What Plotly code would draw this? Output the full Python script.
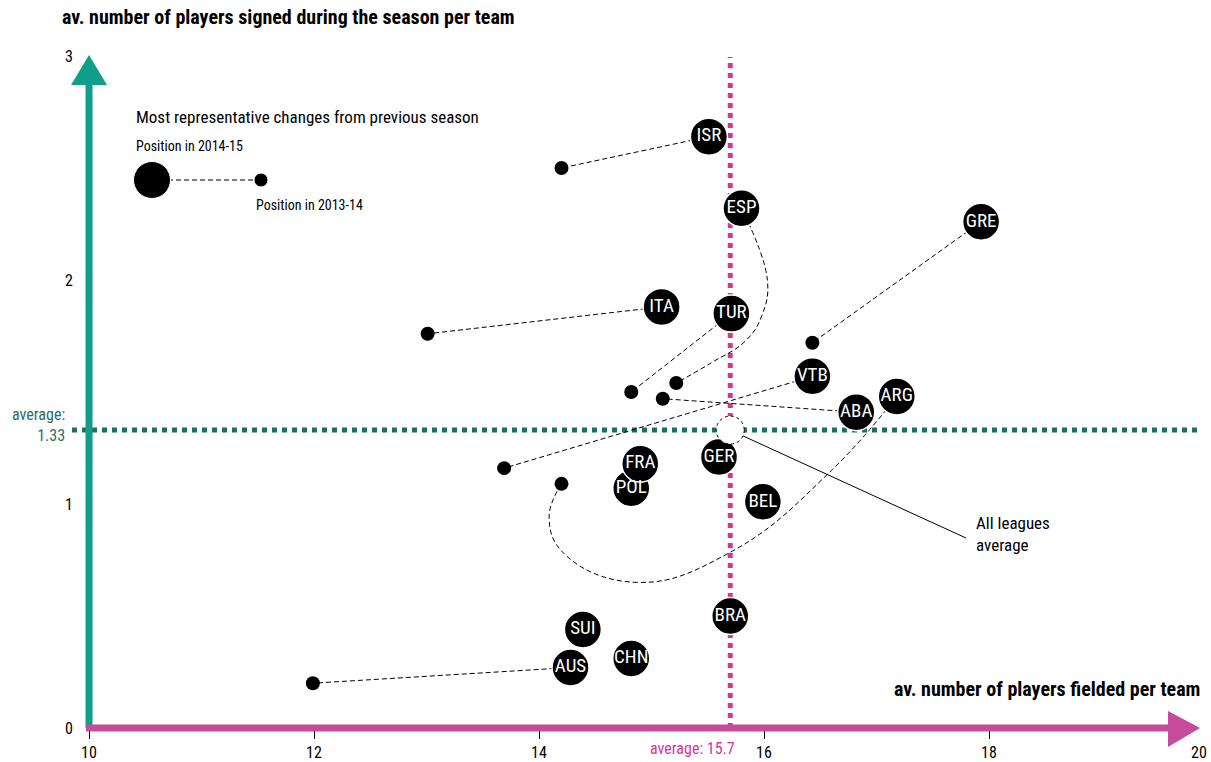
import plotly.graph_objects as go

# 2014-15 position of each league (big circles)
teams = ["ISR", "ESP", "GRE", "ITA", "TUR", "VTB", "ABA", "ARG", "GER",
         "POL", "FRA", "BEL", "BRA", "SUI", "CHN", "AUS"]
fielded_1415 = [15.51, 15.80, 17.93, 15.09, 15.71, 16.43, 16.82, 17.18, 15.60,
                14.82, 14.90, 15.99, 15.70, 14.39, 14.82, 14.28]
signed_1415 = [2.64, 2.32, 2.26, 1.88, 1.85, 1.57, 1.41, 1.48, 1.21,
               1.07, 1.18, 1.01, 0.50, 0.44, 0.31, 0.27]

# 2013-14 position for the most representative changes (small dots)
prev_teams = ["ISR", "ESP", "GRE", "ITA", "TUR", "VTB", "ARG", "ABA", "AUS"]
fielded_1314 = [14.20, 15.22, 16.43, 13.01, 14.82, 13.69, 14.20, 15.10, 11.99]
signed_1314 = [2.50, 1.54, 1.72, 1.76, 1.50, 1.16, 1.09, 1.47, 0.20]

# curved connectors (waypoints between the two seasons)
esp_path_x = [16.03, 15.98, 15.84, 15.53]
esp_path_y = [2.00, 1.84, 1.73, 1.63]
arg_path_x = [16.60, 15.72, 14.87, 14.22, 14.09]
arg_path_y = [1.15, 0.79, 0.65, 0.78, 0.94]

avg_fielded = 15.7
avg_signed = 1.33

x_ticks = [10, 12, 14, 16, 18]
y_ticks = [0, 1, 2, 3]

FONT = "Noto Sans Condensed, Liberation Sans Narrow, Roboto Condensed, Roboto, sans-serif"
TEAL = "#0f9e8a"
MAGENTA = "#c74b9b"
DOT_MAGENTA = "#d4359b"
DOT_GREEN = "#1b6e60"
W, H = 1211, 762


# pixel -> data helpers, used only for decorations (arrows, legend key)
def px_x(p):
    return 10 + (p - 89) / 112.5


def px_y(p):
    return (728 - p) / 224


fig = go.Figure()

# connectors
curves = {"ESP": (esp_path_x, esp_path_y), "ARG": (arg_path_x, arg_path_y)}
for t, px0, py0 in zip(prev_teams, fielded_1314, signed_1314):
    i = teams.index(t)
    xs, ys = [fielded_1415[i]], [signed_1415[i]]
    shape = "linear"
    if t in curves:
        xs += curves[t][0]
        ys += curves[t][1]
        shape = "spline"
    xs.append(px0)
    ys.append(py0)
    fig.add_trace(go.Scatter(x=xs, y=ys, mode="lines", hoverinfo="skip",
                             line=dict(color="black", width=1, dash="5px,3px",
                                       shape=shape, smoothing=1.2)))

fig.add_trace(go.Scatter(x=fielded_1314, y=signed_1314, mode="markers",
                         text=prev_teams, hoverinfo="text",
                         marker=dict(size=14, color="black", opacity=1)))

fig.add_trace(go.Scatter(x=fielded_1415, y=signed_1415, mode="markers+text",
                         text=teams, textposition="middle center",
                         textfont=dict(color="white", size=19, family=FONT),
                         marker=dict(size=37, color="black", opacity=1,
                                     line=dict(color="white", width=1.5))))

# legend key
fig.add_trace(go.Scatter(x=[px_x(152), px_x(261)], y=[px_y(180), px_y(180)],
                         mode="lines+markers", hoverinfo="skip",
                         line=dict(color="black", width=1, dash="5px,3px"),
                         marker=dict(size=[37, 14], color="black", opacity=1)))

shapes = [
    # average reference lines
    dict(type="line", layer="below", x0=avg_fielded, x1=avg_fielded,
         y0=0, y1=px_y(57), line=dict(color=DOT_MAGENTA, width=5, dash="dot")),
    dict(type="line", layer="below", x0=px_x(72), x1=px_x(1202),
         y0=avg_signed, y1=avg_signed, line=dict(color=DOT_GREEN, width=5, dash="dot")),
    # y axis arrow
    dict(type="line", x0=10, x1=10, y0=0, y1=px_y(84),
         line=dict(color=TEAL, width=7)),
    dict(type="path", fillcolor=TEAL, line=dict(width=0),
         path=f"M {px_x(71)},{px_y(85)} L {px_x(107)},{px_y(85)} L 10,{px_y(55)} Z"),
    # x axis arrow
    dict(type="line", x0=px_x(86), x1=px_x(1170), y0=0, y1=0,
         line=dict(color=MAGENTA, width=7)),
    dict(type="path", fillcolor=MAGENTA, line=dict(width=0),
         path=f"M {px_x(1168)},{px_y(711)} L {px_x(1168)},{px_y(747)} L {px_x(1200)},0 Z"),
    # leader to the all-leagues average
    dict(type="line", x0=avg_fielded, y0=avg_signed, x1=px_x(966), y1=px_y(538),
         line=dict(color="black", width=1)),
    dict(type="circle", xref="x", yref="y", xsizemode="pixel", ysizemode="pixel",
         xanchor=avg_fielded, yanchor=avg_signed, x0=-14, x1=14, y0=-14, y1=14,
         fillcolor="white", line=dict(color="black", width=1, dash="dot")),
]

annotations = [
    dict(text="<b>av. number of players signed during the season per team</b>",
         xref="paper", yref="paper", x=60 / W, y=1 - 17 / H, xanchor="left",
         yanchor="middle", showarrow=False, font=dict(size=20, color="black")),
    dict(text="<b>av. number of players fielded per team</b>",
         xref="paper", yref="paper", x=1202 / W, y=1 - 689 / H, xanchor="right",
         yanchor="middle", showarrow=False, font=dict(size=20, color="black")),
    dict(text="20", x=px_x(1199), y=px_y(752), xanchor="center", yanchor="middle",
         showarrow=False, font=dict(size=16, color="black")),
    dict(text=f"average: {avg_fielded}", x=avg_fielded, y=px_y(748), xanchor="right",
         xshift=7, yanchor="middle", showarrow=False,
         font=dict(size=16, color=DOT_MAGENTA)),
    dict(text=f"average:<br>{avg_signed}", xref="paper", x=67 / W, y=avg_signed,
         yshift=5, xanchor="right", yanchor="middle", align="right", showarrow=False,
         font=dict(size=16, color="#2b6e66")),
    dict(text="All leagues<br>average", x=px_x(974), y=px_y(534), xanchor="left",
         yanchor="middle", align="left", showarrow=False,
         font=dict(size=17, color="black")),
    dict(text="Most representative changes from previous season", x=px_x(134),
         y=px_y(117), xanchor="left", yanchor="middle", showarrow=False,
         font=dict(size=17, color="black")),
    dict(text="Position in 2014-15", x=px_x(134), y=px_y(146), xanchor="left",
         yanchor="middle", showarrow=False, font=dict(size=14, color="black")),
    dict(text="Position in 2013-14", x=px_x(254), y=px_y(205), xanchor="left",
         yanchor="middle", showarrow=False, font=dict(size=14, color="black")),
]

fig.update_layout(
    width=W, height=H,
    margin=dict(l=0, r=0, t=0, b=0),
    paper_bgcolor="white", plot_bgcolor="white",
    showlegend=False,
    font=dict(family=FONT, size=16, color="black"),
    shapes=shapes, annotations=annotations,
    xaxis=dict(range=[px_x(0), px_x(W)], anchor="free", position=(H - 729) / H,
               tickvals=x_ticks, ticks="outside", ticklen=9, tickcolor="black",
               tickwidth=1, showgrid=False, zeroline=False, showline=False,
               tickfont=dict(size=16)),
    yaxis=dict(range=[px_y(H), px_y(0)], anchor="free", position=89 / W,
               tickvals=y_ticks, ticks="", ticklabelstandoff=16,
               showgrid=False, zeroline=False, showline=False,
               tickfont=dict(size=16)),
)

# the page's default body margin would shift the 1211x762 figure
fig.write_html("out.html", config={"displayModeBar": False},
               post_script="document.body.style.margin='0';")
